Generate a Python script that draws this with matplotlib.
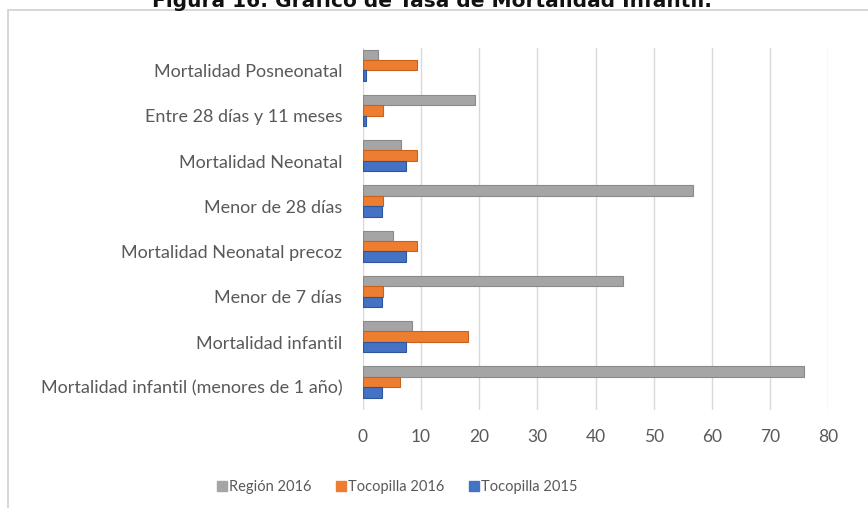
import matplotlib
matplotlib.use("Agg")
import matplotlib.pyplot as plt
from matplotlib.patches import Rectangle
from matplotlib.lines import Line2D
import numpy as np

plt.rcParams['font.family'] = ['Lato', 'DejaVu Sans']

categories = [
    "Mortalidad infantil (menores de 1 año)",
    "Mortalidad infantil",
    "Menor de 7 días",
    "Mortalidad Neonatal precoz",
    "Menor de 28 días",
    "Mortalidad Neonatal",
    "Entre 28 días y 11 meses",
    "Mortalidad Posneonatal",
]
region_2016 = [75.9, 8.5, 44.7, 5.2, 56.7, 6.5, 19.3, 2.6]
tocopilla_2016 = [6.3, 18.0, 3.4, 9.3, 3.4, 9.3, 3.4, 9.3]
tocopilla_2015 = [3.3, 7.4, 3.3, 7.4, 3.3, 7.4, 0.5, 0.5]
series_names = ["Región 2016", "Tocopilla 2016", "Tocopilla 2015"]
colors = ["#A5A5A5", "#ED7D31", "#4472C4"]
edge_colors = ["#8a8a8a", "#c8621c", "#2f559c"]
xticks = [0, 10, 20, 30, 40, 50, 60, 70, 80]

W, H = 868, 508
fig = plt.figure(figsize=(W / 100, H / 100), dpi=100)

# chart frame
fig.patches.append(Rectangle((8 / W, -0.1), 1.2, (H - 10) / H + 0.1,
                             transform=fig.transFigure, fill=False,
                             edgecolor="#D0D0D0", linewidth=1.2, zorder=0))

ax = fig.add_axes([363 / W, (H - 410) / H, 465 / W, 362 / H])
y = np.arange(len(categories))
bh = 0.23
series = [region_2016, tocopilla_2016, tocopilla_2015]
offsets = [bh, 0, -bh]
for vals, off, c, ec in zip(series, offsets, colors, edge_colors):
    ax.barh(y + off + 0.12, vals, height=bh, color=c, edgecolor=ec,
            linewidth=0.8, zorder=3)

ax.set_xlim(0, 80)
ax.set_ylim(-0.5, len(categories) - 0.5)
ax.set_xticks(xticks)
ax.set_xticklabels([str(t) for t in xticks])
ax.set_yticks(y)
ax.set_yticklabels(categories)
ax.tick_params(axis='x', length=0, pad=14, labelsize=12.5, labelcolor="#595959")
ax.tick_params(axis='y', length=0, pad=15, labelsize=13, labelcolor="#595959")
ax.grid(axis='x', color="#D9D9D9", linewidth=1.0, zorder=0)
for s in ax.spines.values():
    s.set_visible(False)

handles = [Line2D([0], [0], marker='s', linestyle='none', markersize=7,
                  markerfacecolor=c, markeredgecolor=c) for c in colors]
fig.legend(handles, series_names, loc='center', bbox_to_anchor=(397 / W, (H - 487) / H),
           ncol=3, frameon=False, fontsize=10.5, labelcolor="#595959",
           handletextpad=0.1, columnspacing=1.6, handlelength=0.8)

fig.text(432 / W, (H - 1) / H, "Figura 16: Gráfico de Tasa de Mortalidad Infantil.",
         ha='center', va='center', fontsize=14.5, fontweight='bold', color="#111111",
         family=['DejaVu Sans'])

fig.savefig("out.png", dpi=100)
